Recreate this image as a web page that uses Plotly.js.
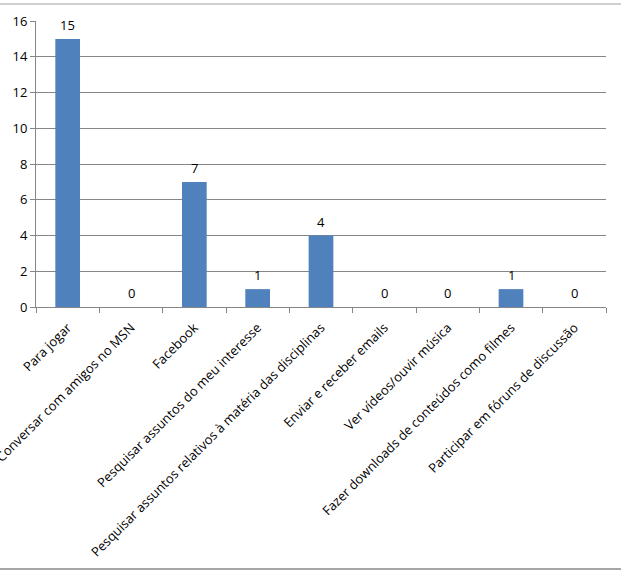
<!DOCTYPE html>
<html>
<head>
<meta charset="utf-8">
<script src="https://cdn.plot.ly/plotly-3.0.1.min.js"></script>
<style>
html,body{margin:0;padding:0;background:#fff;}
#frame{position:absolute;left:0;top:3px;width:621px;height:563px;border-top:2px solid #d0d0d0;border-bottom:2px solid #a6a6a6;}
#chart{position:absolute;left:0;top:0;width:621px;height:574px;}
</style>
</head>
<body>
<div id="frame"></div>
<div id="chart"></div>
<script>
const categories = [
  "Para jogar",
  "Conversar com amigos no MSN",
  "Facebook",
  "Pesquisar assuntos do meu interesse",
  "Pesquisar assuntos relativos à matéria das disciplinas",
  "Enviar e receber emails",
  "Ver vídeos/ouvir música",
  "Fazer downloads de conteúdos como filmes",
  "Participar em fóruns de discussão"
];
const values = [15, 0, 7, 1, 4, 0, 0, 1, 0];
const yTicks = [0, 2, 4, 6, 8, 10, 12, 14, 16];

const fontFam = "Open Sans, Liberation Sans, Arial, sans-serif";

const trace = {
  type: "bar",
  x: categories,
  y: values,
  marker: {color: "#4F81BD"},
  width: 0.39,
  hoverinfo: "skip"
};

const annotations = categories.map((c, i) => ({
  x: c, y: values[i], xref: "x", yref: "y",
  text: String(values[i]),
  showarrow: false,
  yanchor: "middle",
  yshift: 14,
  font: {family: fontFam, size: 13, color: "#000"}
}));

const layout = {
  width: 621, height: 574,
  margin: {l: 36, r: 15, t: 21, b: 267},
  paper_bgcolor: "rgba(0,0,0,0)",
  plot_bgcolor: "rgba(0,0,0,0)",
  showlegend: false,
  bargap: 0.61,
  xaxis: {
    type: "category",
    tickangle: -45,
    tickson: "boundaries",
    ticks: "outside",
    ticklen: 5,
    tickcolor: "#868686",
    showline: true,
    linecolor: "#868686",
    linewidth: 1,
    showgrid: false,
    ticklabelstandoff: 7,
    tickfont: {family: fontFam, size: 13, color: "#000"},
    automargin: false
  },
  yaxis: {
    range: [0, 16],
    tickvals: yTicks,
    ticktext: yTicks.map(String),
    ticks: "outside",
    ticklen: 5,
    tickcolor: "#868686",
    showline: true,
    linecolor: "#868686",
    linewidth: 1,
    showgrid: true,
    gridcolor: "#868686",
    gridwidth: 1,
    zeroline: false,
    tickfont: {family: fontFam, size: 13, color: "#000"},
    automargin: false
  },
  annotations: annotations
};

Plotly.newPlot("chart", [trace], layout, {displayModeBar: false, staticPlot: true});
</script>
</body>
</html>
